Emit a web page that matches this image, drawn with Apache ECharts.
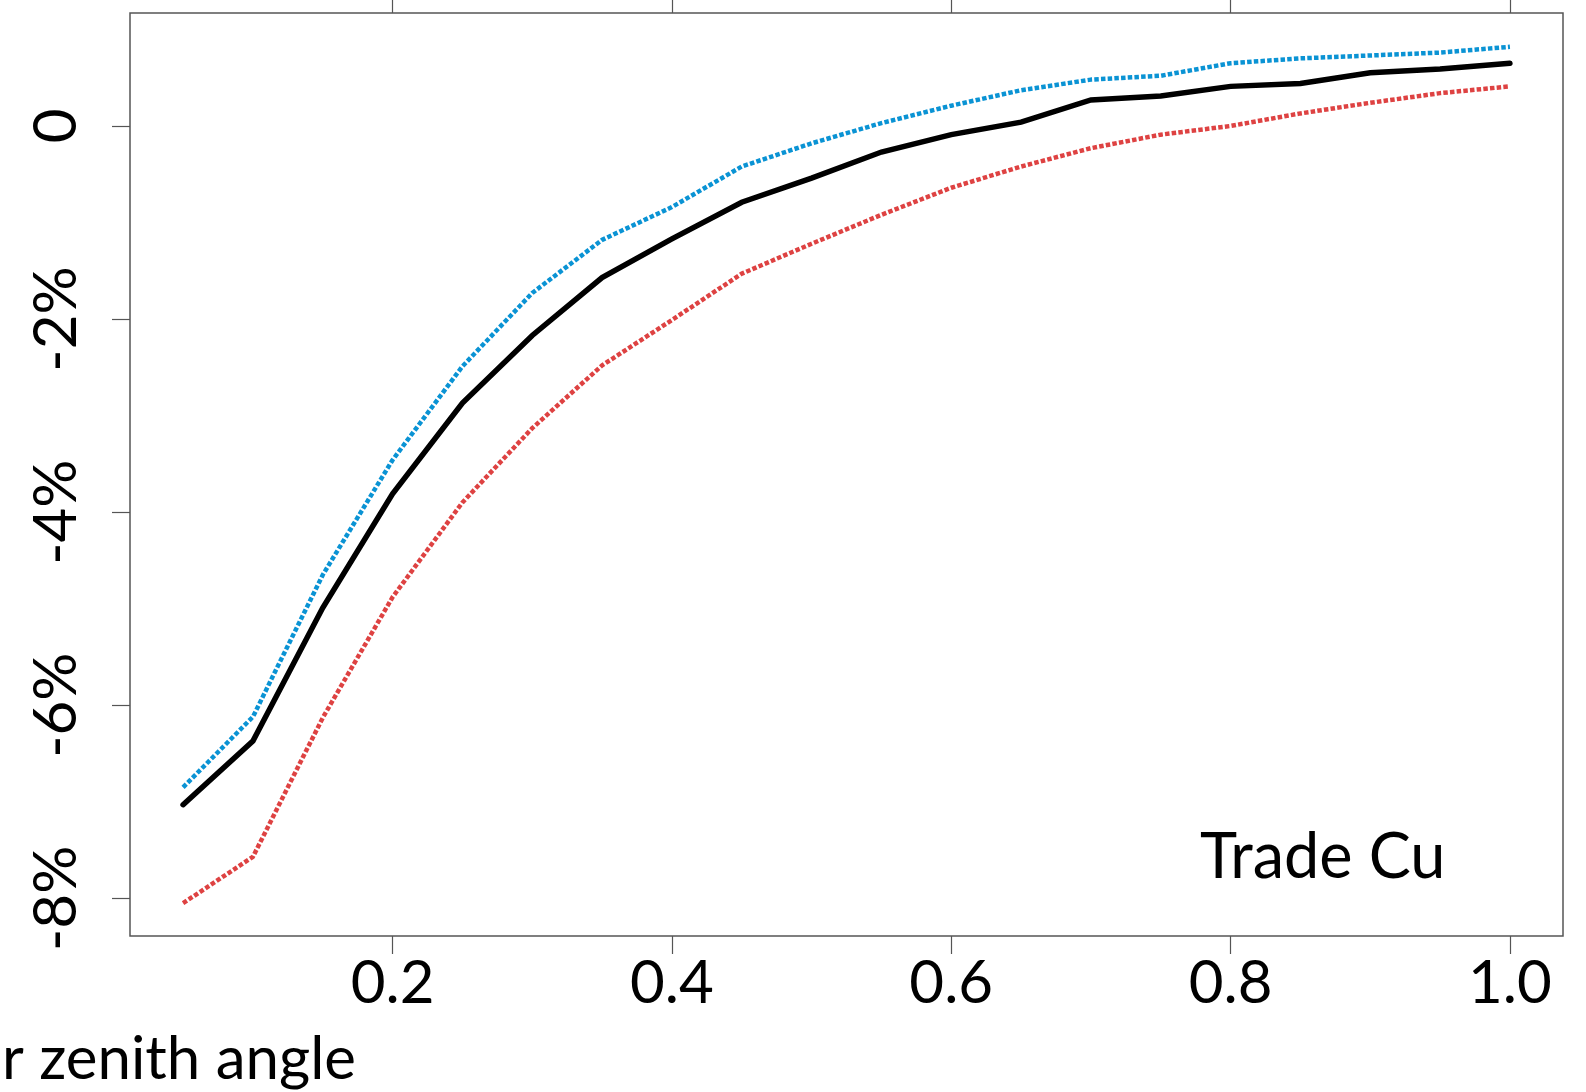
<!DOCTYPE html>
<html>
<head>
<meta charset="utf-8">
<script src="https://cdn.jsdelivr.net/npm/echarts@6/dist/echarts.min.js"></script>
<style>
html,body{margin:0;padding:0;background:#fff;}
#chart{width:1586px;height:1092px;}
</style>
</head>
<body>
<div id="chart"></div>
<script>
// Data
const xValues = [0.05,0.10,0.15,0.20,0.25,0.30,0.35,0.40,0.45,0.50,0.55,0.60,0.65,0.70,0.75,0.80,0.85,0.90,0.95,1.00];
const centralValues = [-7.03,-6.37,-4.99,-3.81,-2.87,-2.17,-1.57,-1.17,-0.79,-0.54,-0.27,-0.09,0.04,0.27,0.31,0.41,0.44,0.55,0.59,0.65];
const upperValues = [-6.85,-6.12,-4.65,-3.46,-2.49,-1.73,-1.18,-0.84,-0.42,-0.18,0.03,0.21,0.37,0.48,0.52,0.65,0.70,0.73,0.76,0.82];
const lowerValues = [-8.05,-7.57,-6.13,-4.88,-3.90,-3.13,-2.48,-2.01,-1.53,-1.22,-0.92,-0.64,-0.42,-0.23,-0.09,0.00,0.13,0.24,0.34,0.41];
const xTicks = [0.2,0.4,0.6,0.8,1.0];
const yTicks = [-8,-6,-4,-2,0];
const panelLabel = 'Trade Cu';
const xTitleVisible = 'r zenith angle';

const pair = (ys) => xValues.map((x, i) => [x, ys[i]]);
const FONT = 'Lato';

const chart = echarts.init(document.getElementById('chart'), null, {renderer: 'canvas'});
chart.setOption({
  animation: false,
  backgroundColor: '#ffffff',
  grid: {left: 130, right: 23, top: 13, bottom: 156, show: true, borderColor: '#555', borderWidth: 1.5, backgroundColor: 'transparent'},
  xAxis: [{
    type: 'value', position: 'bottom', min: 0.012, max: 1.038,
    axisLine: {show: false, onZero: false},
    splitLine: {show: false},
    axisTick: {show: true, length: 18, inside: false, customValues: xTicks, lineStyle: {color: '#555', width: 1.2}},
    axisLabel: {show: true, customValues: xTicks, margin: 18, fontFamily: FONT, fontSize: 60, color: '#000',
      formatter: (v) => v.toFixed(1)}
  }, {
    type: 'value', position: 'top', min: 0.012, max: 1.038,
    axisLine: {show: false, onZero: false},
    splitLine: {show: false},
    axisTick: {show: true, length: 13, inside: false, customValues: xTicks, lineStyle: {color: '#555', width: 1.2}},
    axisLabel: {show: false, customValues: xTicks}
  }],
  yAxis: {
    type: 'value', min: -8.39, max: 1.17,
    axisLine: {show: false, onZero: false},
    splitLine: {show: false},
    axisTick: {show: true, length: 18, inside: false, customValues: yTicks, lineStyle: {color: '#555', width: 1.2}},
    axisLabel: {show: true, customValues: yTicks, rotate: 90, margin: 43, fontFamily: FONT, fontSize: 60, color: '#000',
      formatter: (v) => v === 0 ? '0' : v + '%'}
  },
  series: [{
    type: 'line', name: 'upper', data: pair(upperValues), showSymbol: false, z: 2,
    lineStyle: {color: '#0a93d4', width: 4.5, type: [4.5, 2.2], cap: 'butt', join: 'round'}
  }, {
    type: 'line', name: 'lower', data: pair(lowerValues), showSymbol: false, z: 2,
    lineStyle: {color: '#de4242', width: 4.5, type: [4.5, 2.2], cap: 'butt', join: 'round'}
  }, {
    type: 'line', name: 'central', data: pair(centralValues), showSymbol: false, z: 3,
    lineStyle: {color: '#000', width: 5.5, type: 'solid', cap: 'round', join: 'miter'}
  }],
  graphic: [{
    type: 'text', left: 1200, top: 826,
    style: {text: panelLabel, fontFamily: FONT, fontSize: 63, fill: '#000'}
  }, {
    type: 'text', left: 2, top: 1030,
    style: {text: xTitleVisible, fontFamily: FONT, fontSize: 60, fill: '#000'}
  }]
});
</script>
</body>
</html>
